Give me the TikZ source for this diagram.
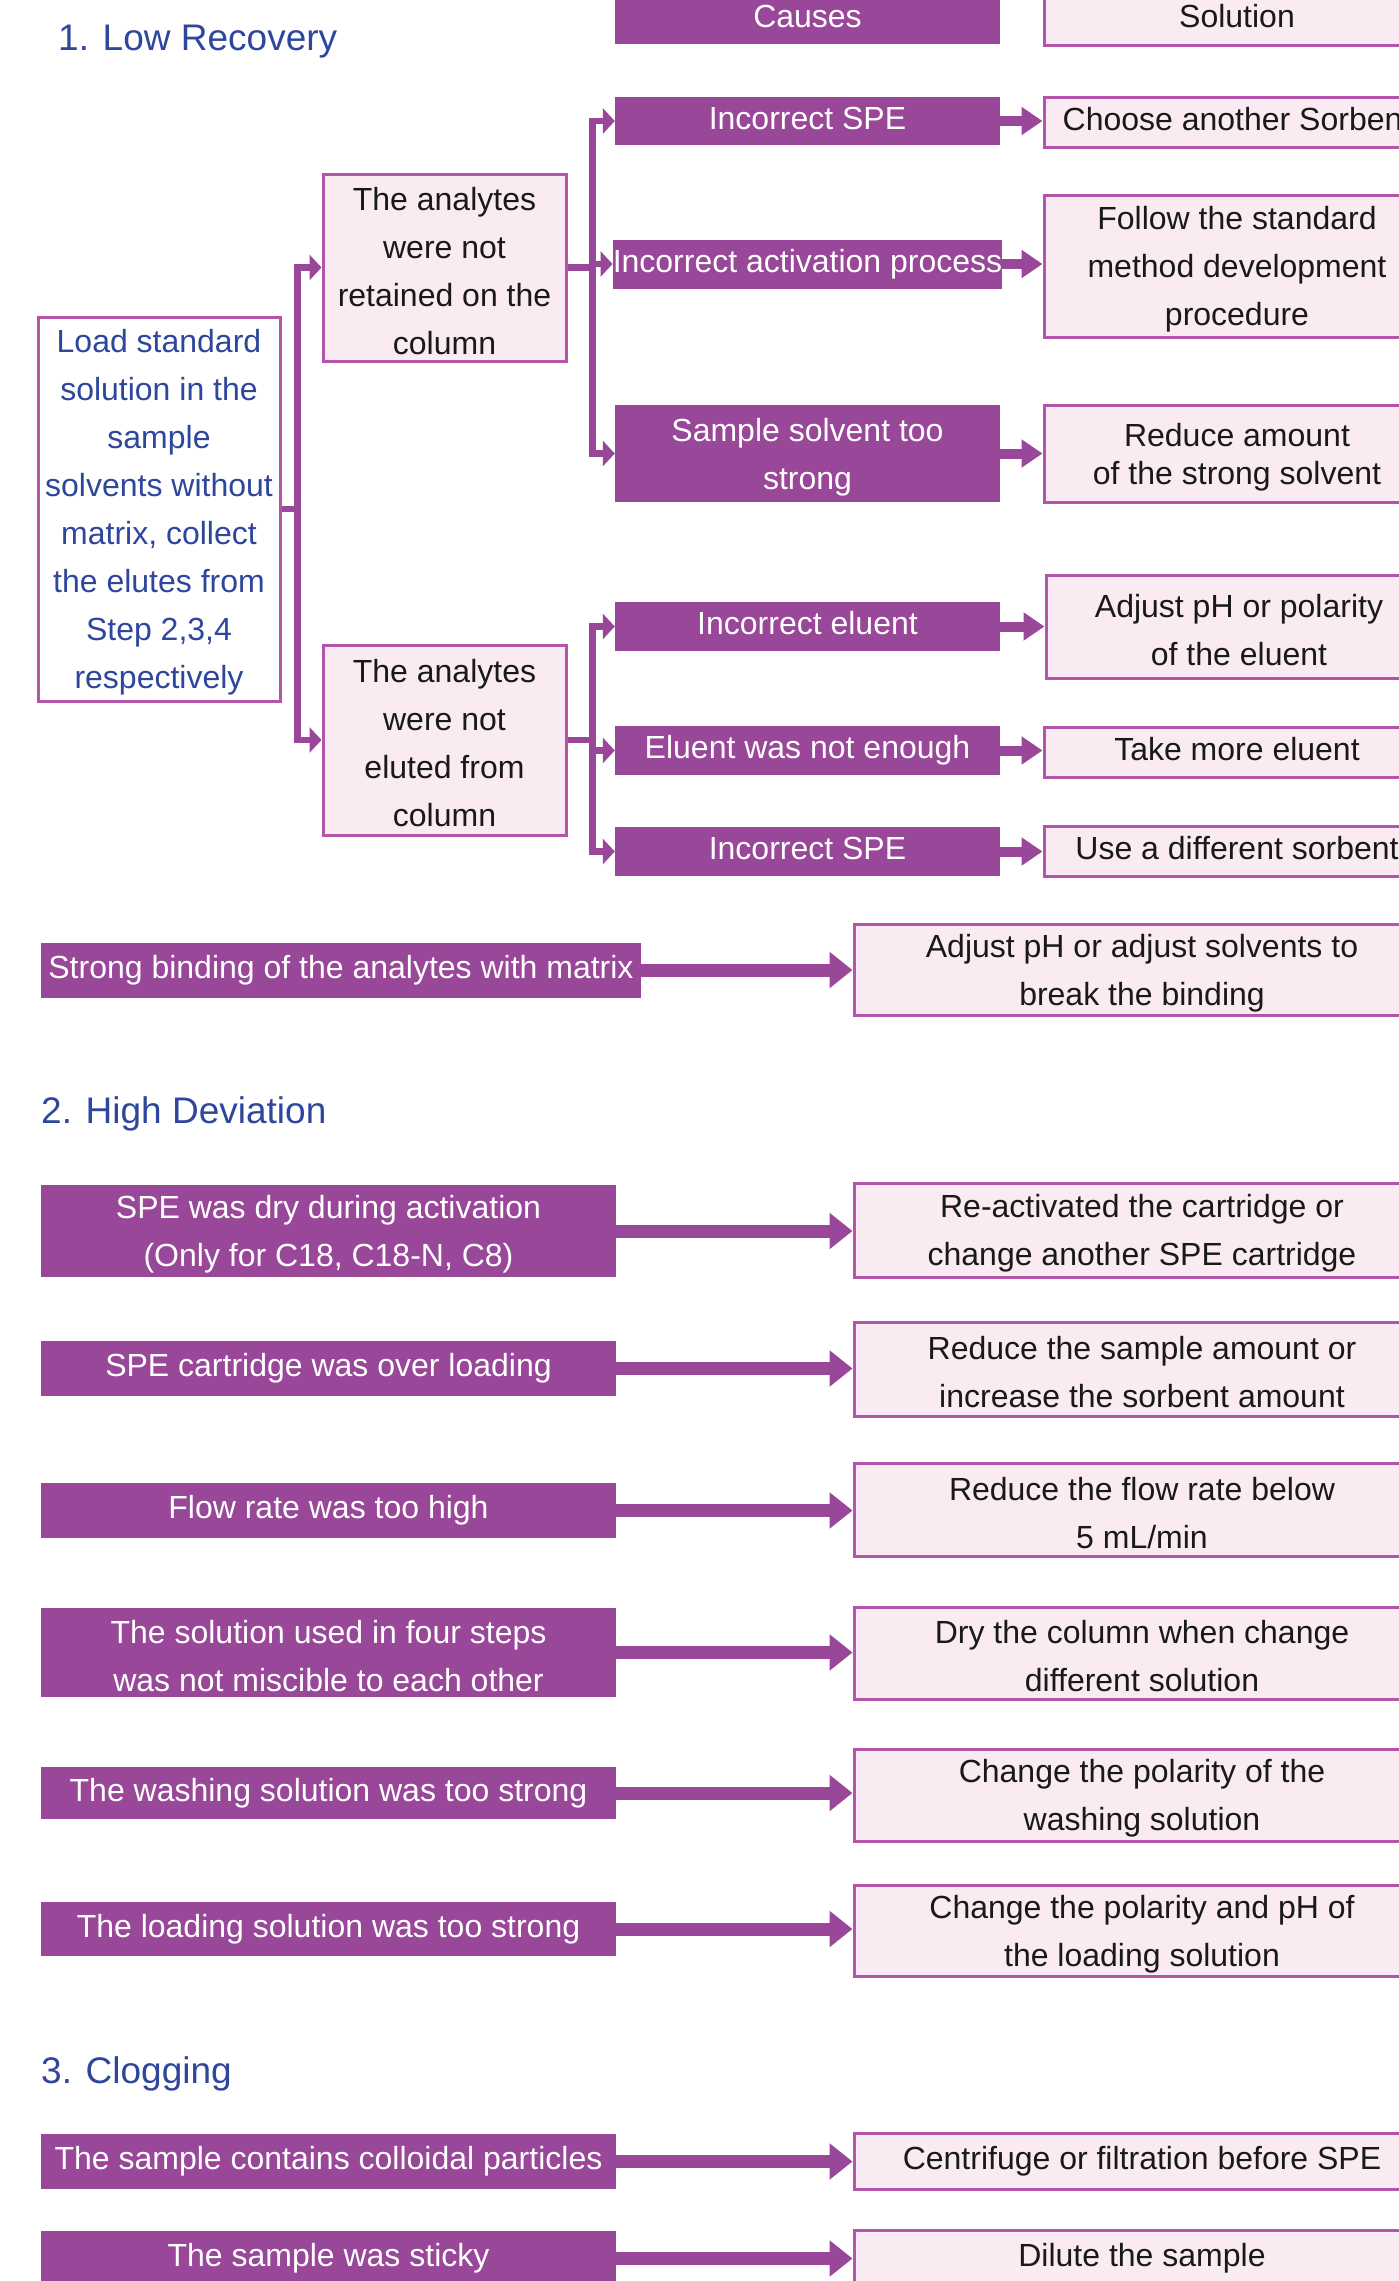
\documentclass[tikz,border=0pt]{standalone}
\usepackage{fontspec}
\setmainfont{Liberation Sans}
\usetikzlibrary{arrows.meta}
\definecolor{purp}{RGB}{153,71,152}
\definecolor{bord}{RGB}{180,84,170}
\definecolor{pinkf}{RGB}{250,235,243}
\definecolor{bluet}{RGB}{46,70,155}
\definecolor{darkt}{RGB}{25,25,25}
\newcommand{\tsr}{\rule{0pt}{30pt}}
\tikzset{
  cause/.style={fill=purp, text=white, inner sep=0pt, align=center, font=\fontsize{32}{48}\selectfont},
  sol/.style={fill=pinkf, draw=bord, line width=3pt, text=darkt, inner sep=0pt, align=center, font=\fontsize{32}{48}\selectfont},
  one/.style={text height=23.5pt, text depth=6.7pt},
  loadbox/.style={fill=white, draw=bord, line width=3pt, text=bluet, inner sep=0pt, align=center, font=\fontsize{32}{48}\selectfont},
  titletext/.style={text=bluet, inner sep=0pt, anchor=west, font=\fontsize{37}{44}\selectfont},
  tree/.style={draw=purp, line width=6.5pt, -{Triangle[length=12pt,width=25pt]}},
  arrA/.style={draw=purp, line width=10pt, -{Triangle[length=21pt,width=27pt]}},
  arrB/.style={draw=purp, line width=13pt, -{Triangle[length=23pt,width=35pt]}}
}
\begin{document}
\begin{tikzpicture}[x=1pt,y=-1pt]
\useasboundingbox (0,0) rectangle (1399,2281);
\clip (0,0) rectangle (1399,2281);

% ---------- Section 1 ----------
\node[titletext] (t1) at (58,42) {1. Low Recovery};
\node[cause, one, minimum width=385, minimum height=50] (hc) at (807.5,19) {Causes};
\node[sol, one, minimum width=386, minimum height=52] (hs) at (1237,19) {Solution};

\node[loadbox, minimum width=242, minimum height=384] (load) at (159,509)
  {\tsr Load standard\\solution in the\\sample\\solvents without\\matrix, collect\\the elutes from\\Step 2,3,4\\respectively};

\node[sol, minimum width=243, minimum height=187] (ret) at (444.5,267.5)
  {\tsr The analytes\\were not\\retained on the\\column};
\node[sol, minimum width=243, minimum height=190] (elu) at (444.5,740)
  {\tsr The analytes\\were not\\eluted from\\column};

\node[cause, one, minimum width=385, minimum height=48] (c1) at (807.5,121) {Incorrect SPE};
\node[sol, one, minimum width=386, minimum height=50] (s1) at (1237,122) {Choose another Sorbent};
\node[cause, one, minimum width=385, minimum height=49] (c2) at (807.5,264) {Incorrect activation process};
\node[sol, minimum width=386, minimum height=142] (s2) at (1237,266) {\tsr Follow the standard\\method development\\procedure};
\node[cause, minimum width=385, minimum height=97] (c3) at (807.5,453.5) {\tsr Sample solvent too\\strong};
\node[sol, minimum width=386, minimum height=97, font=\fontsize{32}{38}\selectfont] (s3) at (1237,453.5) {\tsr Reduce amount\\of the strong solvent};

\node[cause, one, minimum width=385, minimum height=49] (c4) at (807.5,626.5) {Incorrect eluent};
\node[sol, minimum width=386, minimum height=103] (s4) at (1239,626.5) {\tsr Adjust pH or polarity\\of the eluent};
\node[cause, one, minimum width=385, minimum height=49] (c5) at (807.5,750.5) {Eluent was not enough};
\node[sol, one, minimum width=386, minimum height=50] (s5) at (1237,752) {Take more eluent};
\node[cause, one, minimum width=385, minimum height=49] (c6) at (807.5,851.5) {Incorrect SPE};
\node[sol, one, minimum width=386, minimum height=50] (s6) at (1237,851) {Use a different sorbent};

\node[cause, one, minimum width=600, minimum height=55] (c7) at (341,970) {Strong binding of the analytes with matrix};
\node[sol, minimum width=576, minimum height=91] (s7) at (1142,969.5) {\tsr Adjust pH or adjust solvents to\\break the binding};

% tree connectors
\draw[tree] (load.east) -- ++(16,0) |- (ret.west);
\draw[tree] (load.east) -- ++(16,0) |- (elu.west);
\draw[tree] (ret.east) -- ++(25,0) |- (c1.west);
\draw[tree] (ret.east) -- ++(25,0) |- (c2.west);
\draw[tree] (ret.east) -- ++(25,0) |- (c3.west);
\draw[tree] (elu.east) -- ++(25,0) |- (c4.west);
\draw[tree] (elu.east) -- ++(25,0) |- (c5.west);
\draw[tree] (elu.east) -- ++(25,0) |- (c6.west);

\draw[arrA] (c1.east) -- (c1.east -| s1.west);
\draw[arrA] (c2.east) -- (c2.east -| s2.west);
\draw[arrA] (c3.east) -- (c3.east -| s3.west);
\draw[arrA] (c4.east) -- (c4.east -| s4.west);
\draw[arrA] (c5.east) -- (c5.east -| s5.west);
\draw[arrA] (c6.east) -- (c6.east -| s6.west);
\draw[arrB] (c7.east) -- (c7.east -| s7.west);

% ---------- Section 2 ----------
\node[titletext] (t2) at (41,1114) {2. High Deviation};

\node[cause, minimum width=575, minimum height=92] (d1) at (328.5,1231) {\tsr SPE was dry during activation\\(Only for C18, C18-N, C8)};
\node[sol, minimum width=576, minimum height=94] (e1) at (1142,1230) {\tsr Re-activated the cartridge or\\change another SPE cartridge};
\node[cause, one, minimum width=575, minimum height=55] (d2) at (328.5,1368.5) {SPE cartridge was over loading};
\node[sol, minimum width=576, minimum height=94] (e2) at (1142,1369) {\tsr Reduce the sample amount or\\increase the sorbent amount};
\node[cause, one, minimum width=575, minimum height=55] (d3) at (328.5,1510.5) {Flow rate was too high};
\node[sol, minimum width=576, minimum height=93] (e3) at (1142,1509.5) {\tsr Reduce the flow rate below\\5 mL/min};
\node[cause, minimum width=575, minimum height=89] (d4) at (328.5,1652.5) {\tsr The solution used in four steps\\was not miscible to each other};
\node[sol, minimum width=576, minimum height=92] (e4) at (1142,1653) {\tsr Dry the column when change\\different solution};
\node[cause, one, minimum width=575, minimum height=52] (d5) at (328.5,1793) {The washing solution was too strong};
\node[sol, minimum width=576, minimum height=92] (e5) at (1142,1795) {\tsr Change the polarity of the\\washing solution};
\node[cause, one, minimum width=575, minimum height=54] (d6) at (328.5,1929) {The loading solution was too strong};
\node[sol, minimum width=576, minimum height=91] (e6) at (1142,1930.5) {\tsr Change the polarity and pH of\\the loading solution};

\foreach \i in {1,...,6}{
  \draw[arrB] (d\i.east) -- (d\i.east -| e\i.west);
}

% ---------- Section 3 ----------
\node[titletext] (t3) at (41,2074) {3. Clogging};
\node[cause, one, minimum width=575, minimum height=55] (g1) at (328.5,2161.5) {The sample contains colloidal particles};
\node[sol, one, minimum width=576, minimum height=56] (h1) at (1142,2161) {Centrifuge or filtration before SPE};
\node[cause, one, minimum width=575, minimum height=55] (g2) at (328.5,2258.5) {The sample was sticky};
\node[sol, one, minimum width=576, minimum height=56] (h2) at (1142,2258) {Dilute the sample};
\draw[arrB] (g1.east) -- (g1.east -| h1.west);
\draw[arrB] (g2.east) -- (g2.east -| h2.west);
\end{tikzpicture}
\end{document}
